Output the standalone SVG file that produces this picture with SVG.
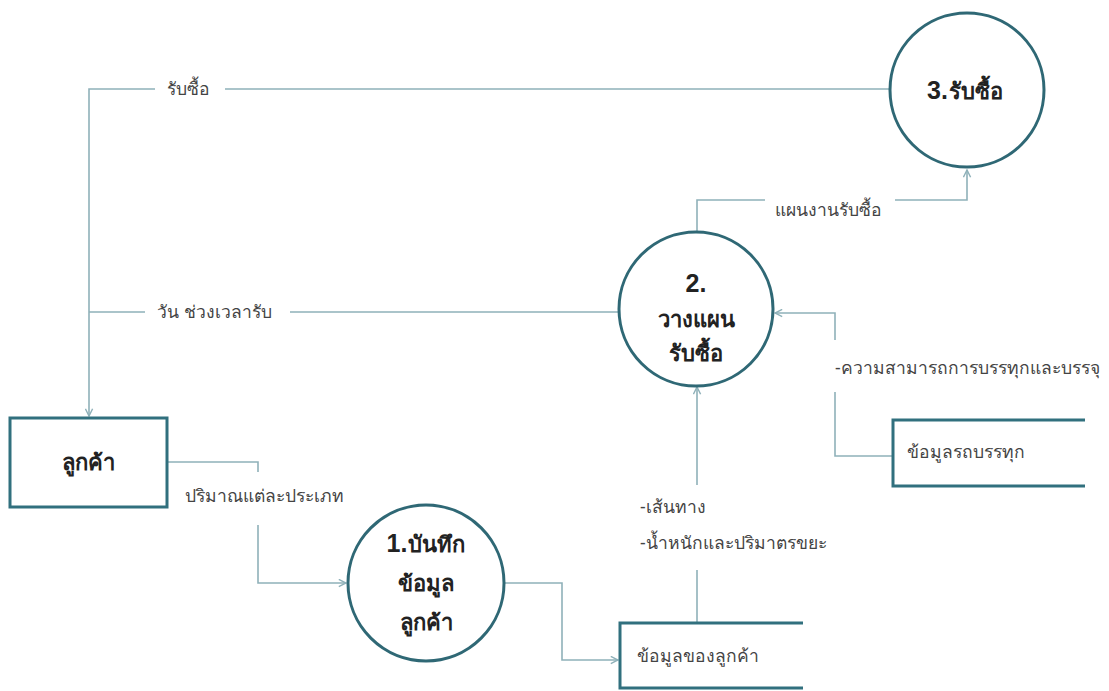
<svg xmlns="http://www.w3.org/2000/svg" width="1109" height="691" viewBox="0 0 1109 691">
<defs>
<style>
.c{fill:#fff;stroke:#2f6875;stroke-width:3}
.b{fill:#fff;stroke:#31707e;stroke-width:3}
.l{fill:none;stroke:#8fb1b9;stroke-width:1.6}
.t{font-family:"Noto Sans","DejaVu Sans",sans-serif;font-size:17.5px;fill:#444}
.n{font-family:"Noto Sans","DejaVu Sans",sans-serif;font-size:22px;font-weight:bold;fill:#222;text-anchor:middle}
.d{font-family:"Liberation Sans","Noto Sans",sans-serif;font-size:25px;font-weight:bold;fill:#222}
</style>
<marker id="a" viewBox="0 0 10 10" refX="9" refY="5" markerWidth="9" markerHeight="9" orient="auto" markerUnits="userSpaceOnUse">
<path d="M1,1 L9,5 L1,9" fill="none" stroke="#8fb1b9" stroke-width="1.6"/>
</marker>
</defs>
<rect width="1109" height="691" fill="#fff"/>
<g id="connectors">
<path class="l" d="M890,89 H225 M155,89 H89 V416" marker-end="url(#a)"/>
<path class="l" d="M697,233 V200 H765 M895,200 H967 V170" marker-end="url(#a)"/>
<path class="l" d="M619,312 H290 M145,312 H89"/>
<path class="l" d="M893,456 H835 V392 M835,340 V313 H775" marker-end="url(#a)"/>
<path class="l" d="M167,462 H258 V472 M258,525 V583 H346" marker-end="url(#a)"/>
<path class="l" d="M505,583 H562 V660 H618" marker-end="url(#a)"/>
<path class="l" d="M697,623 V570 M697,485 V387" marker-end="url(#a)"/>
</g>
<g id="labels">
<text class="t" x="167" y="95">รับซื้อ</text>
<text class="t" x="775" y="216">แผนงานรับซื้อ</text>
<text class="t" x="157" y="318">วัน ช่วงเวลารับ</text>
<text class="t" x="835" y="374">-ความสามารถการบรรทุกและบรรจุ</text>
<text class="t" x="185" y="502">ปริมาณแต่ละประเภท</text>
<text class="t" x="640" y="513">-เส้นทาง</text>
<text class="t" x="640" y="549">-น้ำหนักและปริมาตรขยะ</text>
</g>
<g id="node3">
<circle class="c" cx="967" cy="90" r="77"/>
<text x="965" y="99" text-anchor="middle"><tspan class="d">3.</tspan><tspan class="n" dx="1" style="text-anchor:start">รับซื้อ</tspan></text>
</g>
<g id="node2">
<circle class="c" cx="696" cy="309" r="77"/>
<text class="d" x="696" y="292" text-anchor="middle">2.</text>
<text class="n" x="696" y="327">วางแผน</text>
<text class="n" x="696" y="361">รับซื้อ</text>
</g>
<g id="node1">
<circle class="c" cx="426" cy="583" r="78"/>
<text x="426" y="552" text-anchor="middle"><tspan class="d">1.</tspan><tspan class="n" dx="1" style="text-anchor:start">บันทึก</tspan></text>
<text class="n" x="426" y="591">ข้อมูล</text>
<text class="n" x="426" y="630">ลูกค้า</text>
</g>
<g id="customer">
<rect class="b" x="10" y="418" width="157" height="89"/>
<text class="n" x="88" y="470">ลูกค้า</text>
</g>
<g id="store-truck">
<path class="b" d="M1085,420 H893 V486 H1085" fill="none"/>
<text class="t" x="907" y="458">ข้อมูลรถบรรทุก</text>
</g>
<g id="store-customer">
<path class="b" d="M803,623 H620 V688 H803" fill="none"/>
<text class="t" x="637" y="662">ข้อมูลของลูกค้า</text>
</g>
</svg>
